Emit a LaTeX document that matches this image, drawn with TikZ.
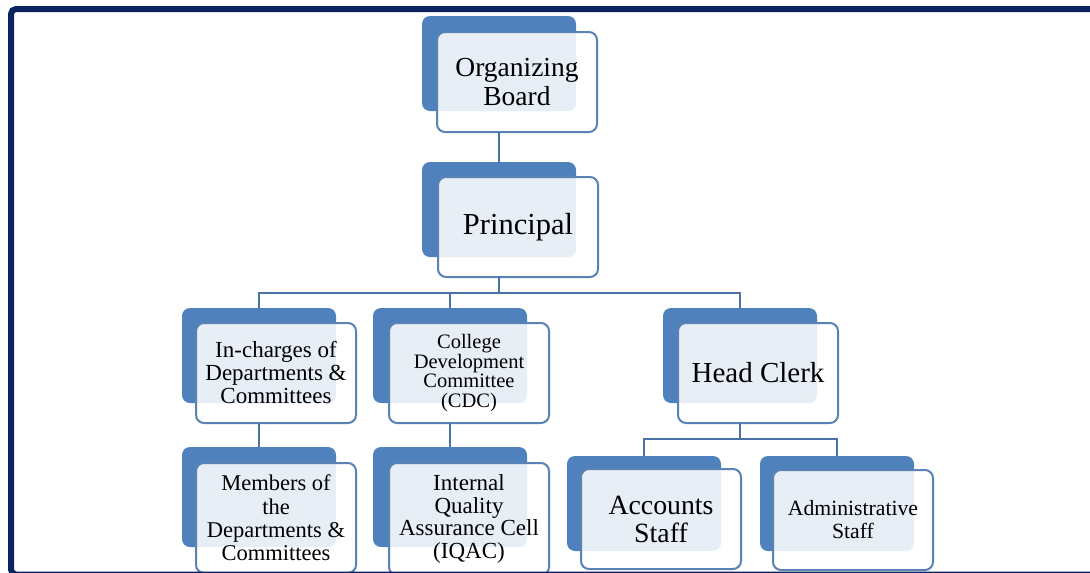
\documentclass[tikz,border=0pt]{standalone}
\usepackage{fontspec}
\setmainfont{Liberation Serif}
\definecolor{backblue}{HTML}{4F81BD}
\definecolor{edgeblue}{HTML}{5A82B4}
\definecolor{linkblue}{HTML}{4A72A6}
\definecolor{framenavy}{HTML}{0B2461}
\begin{document}
\begin{tikzpicture}[x=1pt,y=-1pt,
  backbox/.style={fill=backblue, draw=none, rounded corners=8pt, minimum width=154pt, minimum height=95pt, anchor=north west, inner sep=0pt, outer sep=0pt},
  frontbox/.style={fill=white, fill opacity=0.87, text opacity=1, draw=edgeblue, draw opacity=1, line width=2pt, rounded corners=8pt, minimum width=160pt, minimum height=100pt, anchor=north west, inner sep=0pt, outer sep=0pt, align=center, text=black},
  link/.style={draw=linkblue, line width=2pt}]
\useasboundingbox (0,0) rectangle (1090,573);
\clip (0,0) rectangle (1090,573);
\fill[white] (0,0) rectangle (1090,573);

% Organizing Board
\node[backbox] (ob-b) at (422,16) {};
\node[frontbox, font=\fontsize{27.5}{29}\selectfont] (ob) at (437,32) {Organizing\\Board};
% Principal
\node[backbox] (pr-b) at (422,162) {};
\node[frontbox, font=\fontsize{30.5}{32}\selectfont] (pr) at (438,177) {Principal};
% In-charges
\node[backbox] (ic-b) at (182,308) {};
\node[frontbox, font=\fontsize{23}{23}\selectfont] (ic) at (196,323) {In-charges of\\Departments \&\\Committees};
% CDC
\node[backbox] (cdc-b) at (373,308) {};
\node[frontbox, font=\fontsize{20.5}{19.5}\selectfont] (cdc) at (389,323) {College\\Development\\Committee\\(CDC)};
% Head Clerk
\node[backbox] (hc-b) at (663,308) {};
\node[frontbox, font=\fontsize{29}{30}\selectfont] (hc) at (678,323) {Head Clerk};
% Members
\node[backbox, minimum height=100pt] (mem-b) at (182,447) {};
\node[frontbox, minimum height=110pt, font=\fontsize{22.5}{23.3}\selectfont] (mem) at (196,463) {Members of\\the\\Departments \&\\Committees};
% IQAC
\node[backbox, minimum height=100pt] (iq-b) at (373,447) {};
\node[frontbox, minimum height=112pt, font=\fontsize{23}{22.5}\selectfont] (iq) at (389,463) {Internal\\Quality\\Assurance Cell\\(IQAC)};
% Accounts Staff
\node[backbox] (acc-b) at (567,456) {};
\node[frontbox, font=\fontsize{27.8}{28}\selectfont] (acc) at (581,469) {Accounts\\Staff};
% Administrative Staff
\node[backbox] (adm-b) at (760,456) {};
\node[frontbox, font=\fontsize{21.7}{23}\selectfont] (adm) at (773,470) {Administrative\\Staff};

% connectors
\coordinate (bus1) at (499,293);
\coordinate (bus2) at (740,439);
\draw[link] (ob-b.south |- ob.south) -- (pr-b.north);
\draw[link] (pr-b.south |- pr.south) -- (bus1);
\draw[link] (bus1) -| (ic-b.north);
\draw[link] (bus1) -| (cdc-b.north);
\draw[link] (bus1) -| (hc-b.north);
\draw[link] (ic-b.south |- ic.south) -- (mem-b.north);
\draw[link] (cdc-b.south |- cdc.south) -- (iq-b.north);
\draw[link] (hc-b.south |- hc.south) -- (bus2);
\draw[link] (bus2) -| (acc-b.north);
\draw[link] (bus2) -| (adm-b.north);

% frame
\draw[framenavy, line width=6pt, rounded corners=5pt] (11,9) rectangle (1110,574.5);
\end{tikzpicture}
\end{document}
